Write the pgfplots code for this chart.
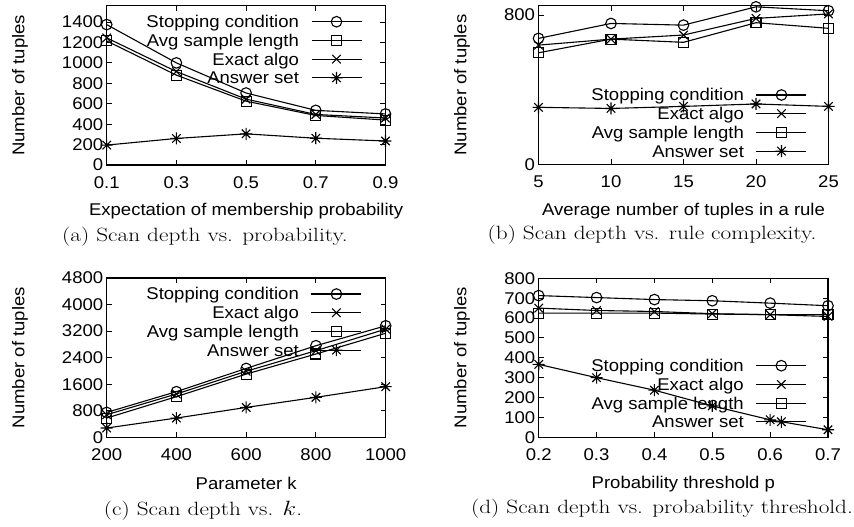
\documentclass[border=0pt]{standalone}
\usepackage{pgfplots}
\pgfplotsset{compat=1.18}
\usepackage{fontspec}
\usepackage{graphicx}
\newfontfamily\plotfont[FakeStretch=1.09]{Liberation Sans}
\newcommand\pf{\plotfont\fontsize{17bp}{20bp}\selectfont}
\newcommand\cf{\fontsize{19.2bp}{22bp}\selectfont}

\pgfdeclareplotmark{gpstar}{%
  \pgfpathmoveto{\pgfqpoint{-\pgfplotmarksize}{0pt}}%
  \pgfpathlineto{\pgfqpoint{\pgfplotmarksize}{0pt}}%
  \pgfpathmoveto{\pgfqpoint{0pt}{-\pgfplotmarksize}}%
  \pgfpathlineto{\pgfqpoint{0pt}{\pgfplotmarksize}}%
  \pgfpathmoveto{\pgfqpoint{-0.7071\pgfplotmarksize}{-0.7071\pgfplotmarksize}}%
  \pgfpathlineto{\pgfqpoint{0.7071\pgfplotmarksize}{0.7071\pgfplotmarksize}}%
  \pgfpathmoveto{\pgfqpoint{-0.7071\pgfplotmarksize}{0.7071\pgfplotmarksize}}%
  \pgfpathlineto{\pgfqpoint{0.7071\pgfplotmarksize}{-0.7071\pgfplotmarksize}}%
  \pgfusepathqstroke}

\pgfplotsset{
  gp/.style={
    scale only axis,
    clip=false,
    axis line style={line width=1.05bp},
    tick align=inside,
    xtick pos=both, ytick pos=both,
    major tick length=5bp,
    every tick/.style={line width=1bp, black},
    tick label style={font=\pf},
    /pgf/number format/assume math mode=true,
    /pgf/number format/1000 sep={},
    label style={font=\pf},
    xticklabel style={yshift=-8bp},
    xlabel style={at={(axis description cs:0.5,-0.2925)}, anchor=center},
    legend style={draw=none, fill=none, font=\pf, inner sep=0pt, outer sep=0pt,
      row sep=0pt, column sep=12bp, anchor=north east,
      nodes={inner sep=0pt, text height=15.3bp, text depth=3.4bp}},
    legend cell align=right,
    legend plot pos=right,
    legend image code/.code={\draw[mark repeat=2,mark phase=2] plot coordinates {(0bp,0bp)(25bp,0bp)(50bp,0bp)};},
    every axis plot/.append style={black, line width=1.1bp, mark options={solid, line width=1.1bp}},
  },
  sc/.style={mark=o, mark size=5.3bp},
  ex/.style={mark=x, mark size=6bp},
  av/.style={mark=square, mark size=5bp},
  an/.style={mark=gpstar, mark size=6bp},
}

\begin{document}
\begin{tikzpicture}
\useasboundingbox (0,0) rectangle (854bp,527bp);

% (a)
\begin{axis}[gp, at={(106.7bp,362bp)}, anchor=south west,
  width=278.8bp, height=159.3bp,
  xmin=0.1, xmax=0.9, ymin=0, ymax=1560,
  xtick={0.1,0.3,0.5,0.7,0.9},
  xticklabel style={/pgf/number format/.cd, fixed, fixed zerofill, precision=1},
  ytick={0,200,400,600,800,1000,1200,1400},
  xlabel={Expectation of membership probability},
  ylabel={Number of tuples},
  ylabel style={at={(axis description cs:-0.311,0.5)}, anchor=center},
  legend style={at={(0.916,0.958)}}]
\addplot[sc] coordinates {(0.1,1375)(0.3,1000)(0.5,705)(0.7,535)(0.9,500)};
\addlegendentry{Stopping condition}
\addplot[av] coordinates {(0.1,1215)(0.3,880)(0.5,625)(0.7,485)(0.9,440)};
\addlegendentry{Avg sample length}
\addplot[ex] coordinates {(0.1,1245)(0.3,915)(0.5,645)(0.7,495)(0.9,460)};
\addlegendentry{Exact algo}
\addplot[an] coordinates {(0.1,195)(0.3,260)(0.5,305)(0.7,262)(0.9,235)};
\addlegendentry{Answer set}
\end{axis}

% (b)
\begin{axis}[gp, at={(538.5bp,362.5bp)}, anchor=south west,
  width=290bp, height=158.8bp,
  xmin=5, xmax=25, ymin=0, ymax=850,
  xtick={5,10,15,20,25},
  ytick={0,800},
  xlabel={Average number of tuples in a rule},
  ylabel={Number of tuples},
  ylabel style={at={(axis description cs:-0.264,0.5)}, anchor=center},
  legend style={at={(0.926,0.4965)}}]
\addplot[sc] coordinates {(5,675)(10,755)(15,746)(20,844)(25,823)};
\addlegendentry{Stopping condition}
\addplot[ex] coordinates {(5,639)(10,671)(15,693)(20,782)(25,806)};
\addlegendentry{Exact algo}
\addplot[av] coordinates {(5,598)(10,671)(15,654)(20,759)(25,729)};
\addlegendentry{Avg sample length}
\addplot[an] coordinates {(5,306)(10,300)(15,311)(20,324)(25,311)};
\addlegendentry{Answer set}
\end{axis}

% (c)
\begin{axis}[gp, at={(106.7bp,89.7bp)}, anchor=south west,
  width=279bp, height=159.3bp,
  xmin=200, xmax=1000, ymin=0, ymax=4800,
  xtick={200,400,600,800,1000},
  ytick={0,800,1600,2400,3200,4000,4800},
  xlabel={Parameter k},
  ylabel={Number of tuples},
  ylabel style={at={(axis description cs:-0.311,0.5)}, anchor=center},
  legend style={at={(0.915,0.958)}}]
\addplot[sc] coordinates {(200,750)(400,1375)(600,2075)(800,2760)(1000,3360)};
\addlegendentry{Stopping condition}
\addplot[ex] coordinates {(200,680)(400,1305)(600,1990)(800,2610)(1000,3260)};
\addlegendentry{Exact algo}
\addplot[av] coordinates {(200,580)(400,1225)(600,1905)(800,2510)(1000,3135)};
\addlegendentry{Avg sample length}
\addplot[an] coordinates {(200,280)(400,580)(600,900)(800,1205)(1000,1525)};
\addlegendentry{Answer set}
\end{axis}

% (d)
\begin{axis}[gp, at={(538.7bp,89.7bp)}, anchor=south west,
  width=289.3bp, height=159bp,
  xmin=0.2, xmax=0.7, ymin=0, ymax=800,
  xtick={0.2,0.3,0.4,0.5,0.6,0.7},
  xticklabel style={/pgf/number format/.cd, fixed, fixed zerofill, precision=1},
  ytick={0,100,200,300,400,500,600,700,800},
  xlabel={Probability threshold p},
  ylabel={Number of tuples},
  ylabel style={at={(axis description cs:-0.265,0.5)}, anchor=center},
  legend style={at={(0.927,0.509)}}]
\addplot[sc] coordinates {(0.2,713)(0.3,703)(0.4,693)(0.5,687)(0.6,675)(0.7,662)};
\addlegendentry{Stopping condition}
\addplot[ex] coordinates {(0.2,650)(0.3,638)(0.4,633)(0.5,622)(0.6,617)(0.7,608)};
\addlegendentry{Exact algo}
\addplot[av] coordinates {(0.2,625)(0.3,625)(0.4,625)(0.5,620)(0.6,617)(0.7,617)};
\addlegendentry{Avg sample length}
\addplot[an] coordinates {(0.2,367)(0.3,300)(0.4,237)(0.5,158)(0.6,88)(0.7,38)};
\addlegendentry{Answer set}
\end{axis}

\node[font=\cf] at (205bp,290.3bp) {\scalebox{1.21}[1]{(a) Scan depth vs. probability.}};
\node[font=\cf] at (652bp,292bp) {\scalebox{1.21}[1]{(b) Scan depth vs. rule complexity.}};
\node[font=\cf] at (203bp,16.3bp) {\scalebox{1.21}[1]{(c) Scan depth vs. $k$.}};
\node[font=\cf] at (662bp,18bp) {\scalebox{1.21}[1]{(d) Scan depth vs. probability threshold.}};
\end{tikzpicture}
\end{document}
